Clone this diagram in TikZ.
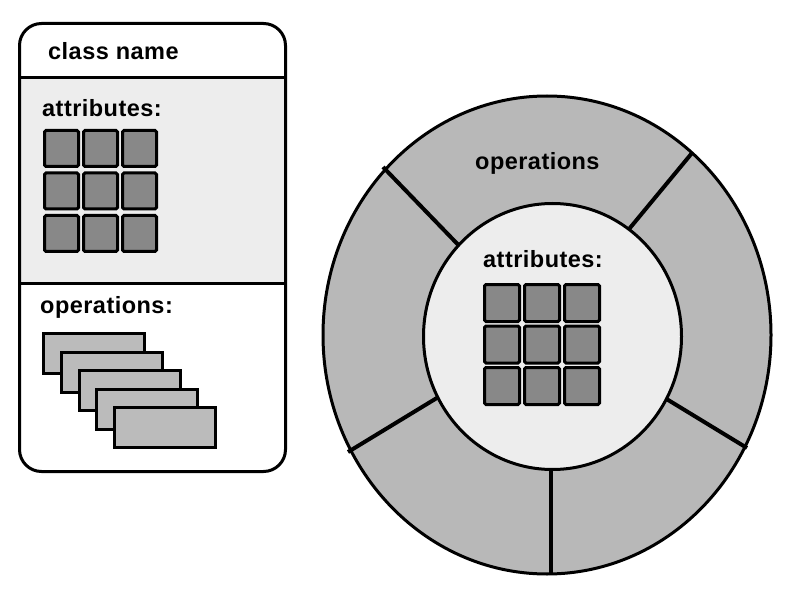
\documentclass[tikz,border=0pt]{standalone}
\usepackage{fontspec}
\setmainfont{Liberation Sans}
\newfontfamily\labfont[LetterSpace=2]{Liberation Sans}
\definecolor{lightfill}{HTML}{EDEDED}
\definecolor{ringfill}{HTML}{B8B8B8}
\definecolor{sqfill}{HTML}{888888}
\definecolor{opfill}{HTML}{BBBBBB}
\begin{document}
\begin{tikzpicture}[x=1pt,y=-1pt,
  lab/.style={inner sep=0pt,anchor=base west,font=\labfont\bfseries\fontsize{23.5}{28}\selectfont},
  sq/.style={draw=black,fill=sqfill,line width=3pt,rounded corners=1.5pt},
  oprect/.style={draw=black,fill=opfill,line width=3pt},
  outline/.style={draw=black,line width=3pt},
  divider/.style={draw=black,line width=4pt}]
\useasboundingbox (0,0) rectangle (798,604);
\fill[white] (0,0) rectangle (798,604);
% ---- left class box ----
\begin{scope}
  \clip[rounded corners=22pt] (19.5,23.5) rectangle (285.5,471.5);
  \fill[lightfill] (0,77.5) rectangle (300,283.5);
\end{scope}
\draw[outline,rounded corners=22pt] (19.5,23.5) rectangle (285.5,471.5);
\draw[outline] (19.5,77.5) -- (285.5,77.5);
\draw[outline] (19.5,283.5) -- (285.5,283.5);
\node[lab] (cn) at (48,60) {class name};
\node[lab] (la) at (42,117) {attributes:};
\node[lab] (lo) at (40,313) {operations:};
\foreach \i in {0,1,2}{
  \foreach \j in {0,1,2}{
    \draw[sq] ({43+1.5+39*\i},{129+1.5+42.5*\j}) rectangle ++(34,36);
  }
}
\foreach \k in {0,...,4}{
  \draw[oprect] ({42+1.5+17.8*\k},{332+1.5+18.5*\k}) rectangle ++(101,40);
}
% ---- circle ----
\draw[outline,fill=ringfill] (547,335) ellipse [x radius=224, y radius=239];
\draw[divider] (383,167) -- (470,257);
\draw[divider] (692,153) -- (620,240);
\draw[divider] (348,452) -- (450,390);
\draw[divider] (747,448) -- (655,392);
\draw[divider] (551,575) -- (551,460);
\draw[outline,fill=lightfill] (552.5,336.5) ellipse [x radius=129, y radius=133];
\node[lab] (ro) at (475,170) {operations};
\node[lab] (ra) at (483,267) {attributes:};
\foreach \i in {0,1,2}{
  \foreach \j in {0,1,2}{
    \draw[sq] ({483+1.5+40*\i},{283+1.5+41.5*\j}) rectangle ++(35,37);
  }
}
\end{tikzpicture}
\end{document}
